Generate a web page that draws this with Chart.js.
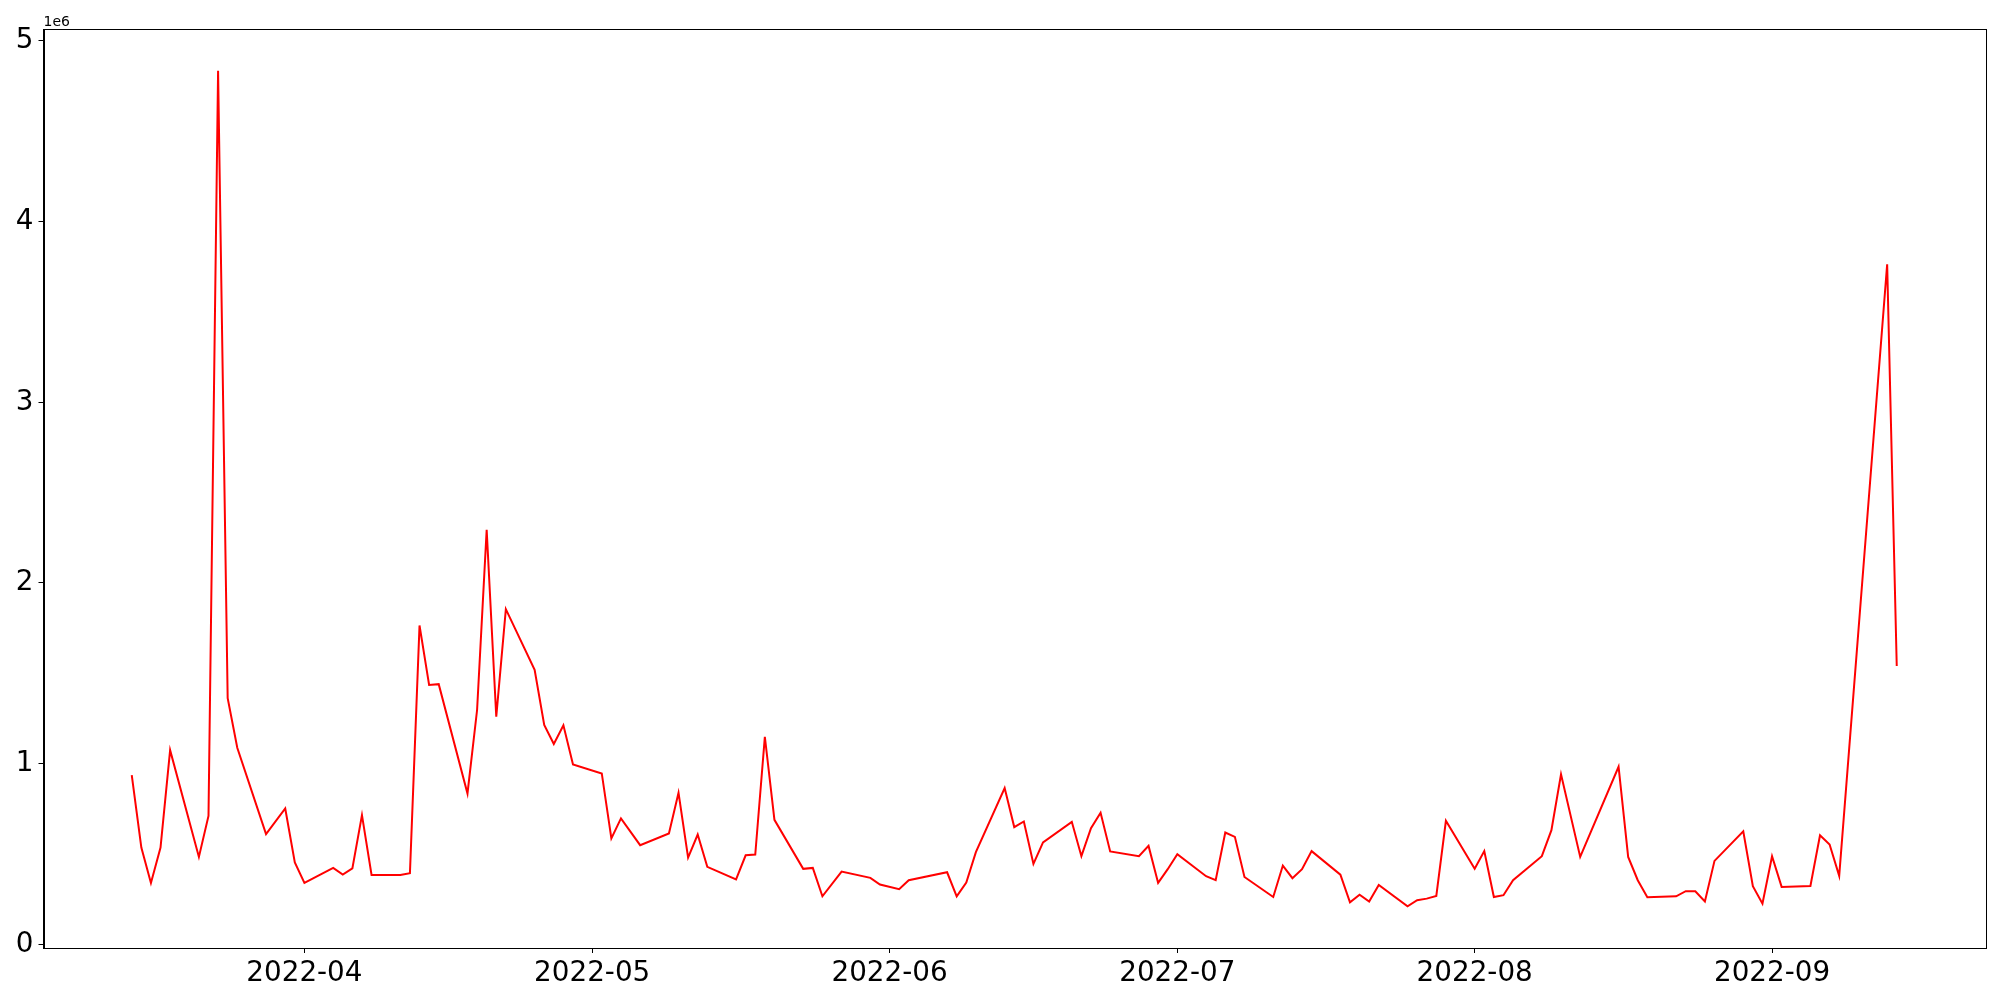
<!DOCTYPE html>
<html>
<head>
<meta charset="utf-8">
<script src="https://cdn.jsdelivr.net/npm/chart.js@4"></script>
<style>
  body { margin: 0; background: #fff; }
  canvas { display: block; }
</style>
</head>
<body>
<canvas id="line-chartcanvas" width="2000" height="1000"></canvas>
<script>
// trading days (gaps = weekends / missing days)
var dates = [
  "2022-03-14","2022-03-15","2022-03-16","2022-03-17","2022-03-18",
  "2022-03-21","2022-03-22","2022-03-23","2022-03-24","2022-03-25",
  "2022-03-28","2022-03-30","2022-03-31","2022-04-01",
  "2022-04-04","2022-04-05","2022-04-06","2022-04-07","2022-04-08",
  "2022-04-11","2022-04-12","2022-04-13","2022-04-14","2022-04-15",
  "2022-04-18","2022-04-19","2022-04-20","2022-04-21","2022-04-22",
  "2022-04-25","2022-04-26","2022-04-27","2022-04-28","2022-04-29",
  "2022-05-02","2022-05-03","2022-05-04","2022-05-06",
  "2022-05-09","2022-05-10","2022-05-11","2022-05-12","2022-05-13",
  "2022-05-16","2022-05-17","2022-05-18","2022-05-19","2022-05-20",
  "2022-05-23","2022-05-24","2022-05-25","2022-05-27",
  "2022-05-30","2022-05-31","2022-06-02","2022-06-03",
  "2022-06-07","2022-06-08","2022-06-09","2022-06-10",
  "2022-06-13","2022-06-14","2022-06-15","2022-06-16","2022-06-17",
  "2022-06-20","2022-06-21","2022-06-22","2022-06-23","2022-06-24",
  "2022-06-27","2022-06-28","2022-06-29","2022-06-30","2022-07-01",
  "2022-07-04","2022-07-05","2022-07-06","2022-07-07","2022-07-08",
  "2022-07-11","2022-07-12","2022-07-13","2022-07-14","2022-07-15",
  "2022-07-18","2022-07-19","2022-07-20","2022-07-21","2022-07-22",
  "2022-07-25","2022-07-26","2022-07-27","2022-07-28","2022-07-29",
  "2022-08-01","2022-08-02","2022-08-03","2022-08-04","2022-08-05",
  "2022-08-08","2022-08-09","2022-08-10","2022-08-12",
  "2022-08-16","2022-08-17","2022-08-18","2022-08-19",
  "2022-08-22","2022-08-23","2022-08-24","2022-08-25","2022-08-26",
  "2022-08-29","2022-08-30","2022-08-31","2022-09-01","2022-09-02",
  "2022-09-05","2022-09-06","2022-09-07","2022-09-08",
  "2022-09-13","2022-09-14"
];

var volume = [
  937000, 536000, 340000, 536000, 1075000,
  484000, 711000, 4835000, 1362000, 1088000,
  610000, 752000, 453000, 340000,
  423000, 386000, 420000, 715000, 384000,
  384000, 394000, 1765000, 1436000, 1440000,
  835000, 1297000, 2295000, 1260000, 1855000,
  1519000, 1214000, 1109000, 1212000, 996000,
  946000, 586000, 697000, 549000,
  614000, 839000, 480000, 608000, 429000,
  360000, 493000, 497000, 1149000, 689000,
  418000, 423000, 266000, 403000,
  368000, 331000, 305000, 355000,
  399000, 266000, 342000, 510000,
  865000, 649000, 680000, 445000, 564000,
  678000, 488000, 643000, 728000, 514000,
  488000, 545000, 340000, 416000, 499000,
  377000, 355000, 619000, 595000, 373000,
  262000, 436000, 366000, 416000, 516000,
  386000, 233000, 275000, 237000, 329000,
  211000, 244000, 253000, 268000, 684000,
  419000, 516000, 262000, 272000, 355000,
  488000, 632000, 941000, 484000,
  983000, 484000, 355000, 261000,
  266000, 294000, 294000, 237000, 462000,
  626000, 322000, 225000, 488000, 318000,
  323000, 604000, 553000, 379000,
  3764000, 1541000
];

var monthTicks = ["2022-04","2022-05","2022-06","2022-07","2022-08","2022-09"];
var yTicks = [0, 1, 2, 3, 4, 5];
var yOffsetLabel = "1e6";

function toDay(s){
  var p = s.split("-");
  return Date.UTC(+p[0], +p[1]-1, p[2] ? +p[2] : 1) / 86400000;
}

var points = [];
for(var i=0;i<dates.length;i++){
  points.push({x: toDay(dates[i]), y: volume[i]});
}

// matplotlib-like 5% margins
var xFirst = points[0].x, xLast = points[points.length-1].x;
var xPad = (xLast - xFirst) * 0.05;
var yMin = Math.min.apply(null, volume), yMax = Math.max.apply(null, volume);
var yPad = (yMax - yMin) * 0.05;

var monthLabel = {};
for(const m of monthTicks) monthLabel[toDay(m)] = m;

var FONT = "'DejaVu Sans', sans-serif";

var framePlugin = {
  id: "frame",
  afterDraw: function(chart){
    var a = chart.chartArea, c = chart.ctx;
    c.save();
    c.strokeStyle = "#000";
    c.lineWidth = 1;
    c.strokeRect(Math.round(a.left)+0.5, Math.round(a.top)+0.5,
                 Math.round(a.right-a.left), Math.round(a.bottom-a.top));
    c.fillStyle = "#000";
    c.font = "14px " + FONT;
    c.textAlign = "left";
    c.textBaseline = "bottom";
    c.fillText(yOffsetLabel, a.left, a.top);
    c.restore();
  }
};

var ctx = document.getElementById("line-chartcanvas");

var chart = new Chart(ctx, {
  type: "line",
  data: {
    datasets: [{
      label: "volume",
      data: points,
      borderColor: "#ff0000",
      backgroundColor: "#ff0000",
      borderWidth: 2,
      pointRadius: 0,
      tension: 0,
      fill: false
    }]
  },
  options: {
    responsive: false,
    animation: false,
    layout: { padding: { top: 29, right: 15, left: 0, bottom: 0 } },
    plugins: {
      legend: { display: false },
      tooltip: { enabled: false }
    },
    scales: {
      x: {
        type: "linear",
        min: xFirst - xPad,
        max: xLast + xPad,
        afterBuildTicks: function(scale){
          scale.ticks = monthTicks.map(function(m){ return {value: toDay(m)}; });
        },
        afterFit: function(scale){ scale.height = 52; },
        grid: { drawOnChartArea: false, drawTicks: true, tickLength: 5, color: "#000" },
        border: { display: true, color: "#000", width: 1 },
        ticks: {
          autoSkip: false,
          maxRotation: 0,
          padding: 4,
          color: "#000",
          font: { family: FONT, size: 27.8 },
          callback: function(v){ return monthLabel[v] || ""; }
        }
      },
      y: {
        type: "linear",
        min: yMin - yPad,
        max: yMax + yPad,
        afterBuildTicks: function(scale){
          scale.ticks = yTicks.map(function(t){ return {value: t * 1e6}; });
        },
        afterFit: function(scale){ scale.width = 43.5; },
        grid: { drawOnChartArea: false, drawTicks: true, tickLength: 5, color: "#000" },
        border: { display: true, color: "#000", width: 1 },
        ticks: {
          padding: 5,
          color: "#000",
          font: { family: FONT, size: 27.8 },
          callback: function(v){ return String(Math.round(v / 1e6)); }
        }
      }
    }
  },
  plugins: [framePlugin]
});
</script>
</body>
</html>
